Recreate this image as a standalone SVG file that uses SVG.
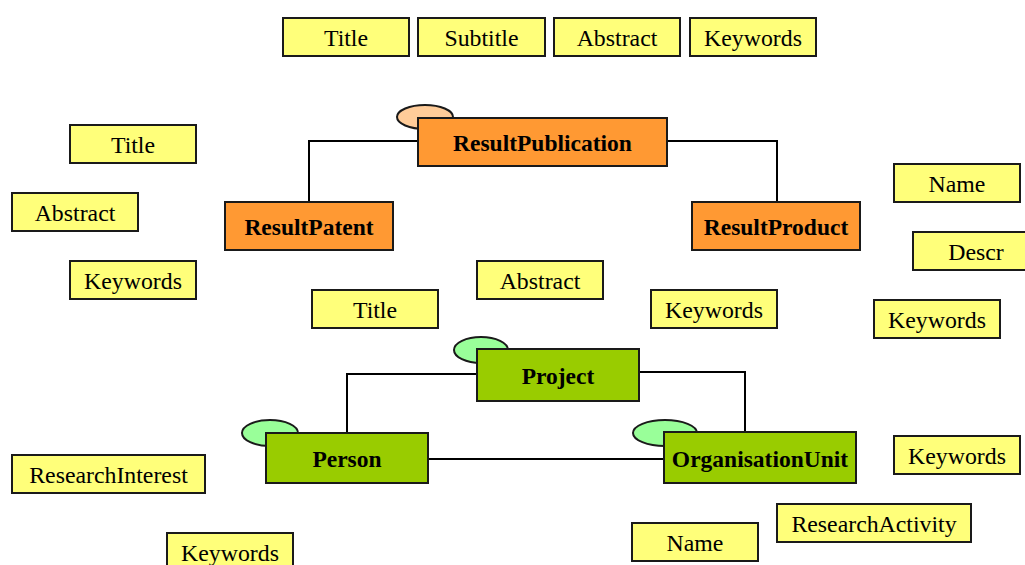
<svg xmlns="http://www.w3.org/2000/svg" width="1025" height="565" viewBox="0 0 1025 565">
<style>
.attr rect{fill:#FFFF7A;stroke:#1a1a1a;stroke-width:2}
.attr text{font-family:"Liberation Serif","Times New Roman",serif;font-size:23.8px;fill:#000;text-anchor:middle}
.ent text{font-family:"Liberation Serif","Times New Roman",serif;font-size:23.5px;font-weight:bold;fill:#000;text-anchor:middle}
.res rect{fill:#FF9933;stroke:#1a1a1a;stroke-width:2}
.res ellipse{fill:#FFCC99;stroke:#1a1a1a;stroke-width:2}
.grn rect{fill:#99CC00;stroke:#1a1a1a;stroke-width:2}
.grn ellipse{fill:#99FF99;stroke:#1a1a1a;stroke-width:2}
#connectors path{fill:none;stroke:#000;stroke-width:2}
</style>
<rect width="1025" height="565" fill="#fff"/>
<g id="connectors">
<path d="M418,141 H309 V202"/>
<path d="M667,141 H777 V202"/>
<path d="M477,374 H347 V433"/>
<path d="M639,372 H745 V432"/>
<path d="M428,459 H664"/>
</g>
<g id="ResultPublication" class="ent res"><ellipse cx="425" cy="117" rx="28" ry="12"/><rect x="418" y="118" width="249" height="48"/><text x="542.5" y="151">ResultPublication</text></g>
<g id="ResultPatent" class="ent res"><rect x="225" y="202" width="168" height="48"/><text x="309" y="235">ResultPatent</text></g>
<g id="ResultProduct" class="ent res"><rect x="692" y="202" width="168" height="48"/><text x="776" y="235">ResultProduct</text></g>
<g id="Project" class="ent grn"><ellipse cx="481" cy="350" rx="27" ry="13"/><rect x="477" y="349" width="162" height="52"/><text x="558" y="384">Project</text></g>
<g id="Person" class="ent grn"><ellipse cx="270" cy="433" rx="28" ry="13"/><rect x="266" y="433" width="162" height="50"/><text x="347" y="467">Person</text></g>
<g id="OrganisationUnit" class="ent grn"><ellipse cx="665" cy="433" rx="32" ry="13"/><rect x="664" y="432" width="192" height="51"/><text x="760" y="467">OrganisationUnit</text></g>
<g id="a-title-top" class="attr"><rect x="283" y="18" width="126" height="38"/><text x="346" y="46">Title</text></g>
<g id="a-subtitle-top" class="attr"><rect x="418" y="18" width="127" height="38"/><text x="481.5" y="46">Subtitle</text></g>
<g id="a-abstract-top" class="attr"><rect x="554" y="18" width="126" height="38"/><text x="617" y="46">Abstract</text></g>
<g id="a-keywords-top" class="attr"><rect x="690" y="18" width="126" height="38"/><text x="753" y="46">Keywords</text></g>
<g id="a-title-left" class="attr"><rect x="70" y="125" width="126" height="38"/><text x="133" y="153">Title</text></g>
<g id="a-abstract-left" class="attr"><rect x="12" y="193" width="126" height="38"/><text x="75" y="221">Abstract</text></g>
<g id="a-keywords-left" class="attr"><rect x="70" y="261" width="126" height="38"/><text x="133" y="289">Keywords</text></g>
<g id="a-abstract-mid" class="attr"><rect x="477" y="261" width="126" height="38"/><text x="540" y="289">Abstract</text></g>
<g id="a-title-mid" class="attr"><rect x="312" y="290" width="126" height="38"/><text x="375" y="318">Title</text></g>
<g id="a-keywords-mid" class="attr"><rect x="651" y="290" width="126" height="38"/><text x="714" y="318">Keywords</text></g>
<g id="a-name-right" class="attr"><rect x="894" y="164" width="126" height="38"/><text x="957" y="192">Name</text></g>
<g id="a-descr-right" class="attr"><rect x="913" y="232" width="126" height="38"/><text x="976" y="260">Descr</text></g>
<g id="a-keywords-right" class="attr"><rect x="874" y="300" width="126" height="38"/><text x="937" y="328">Keywords</text></g>
<g id="a-keywords-org" class="attr"><rect x="894" y="436" width="126" height="38"/><text x="957" y="464">Keywords</text></g>
<g id="a-researchinterest" class="attr"><rect x="12" y="455" width="193" height="38"/><text x="108.5" y="483">ResearchInterest</text></g>
<g id="a-keywords-person" class="attr"><rect x="167" y="533" width="126" height="38"/><text x="230" y="561">Keywords</text></g>
<g id="a-name-org" class="attr"><rect x="632" y="523" width="126" height="38"/><text x="695" y="551">Name</text></g>
<g id="a-researchactivity" class="attr"><rect x="777" y="504" width="194" height="38"/><text x="874" y="532">ResearchActivity</text></g>
</svg>
